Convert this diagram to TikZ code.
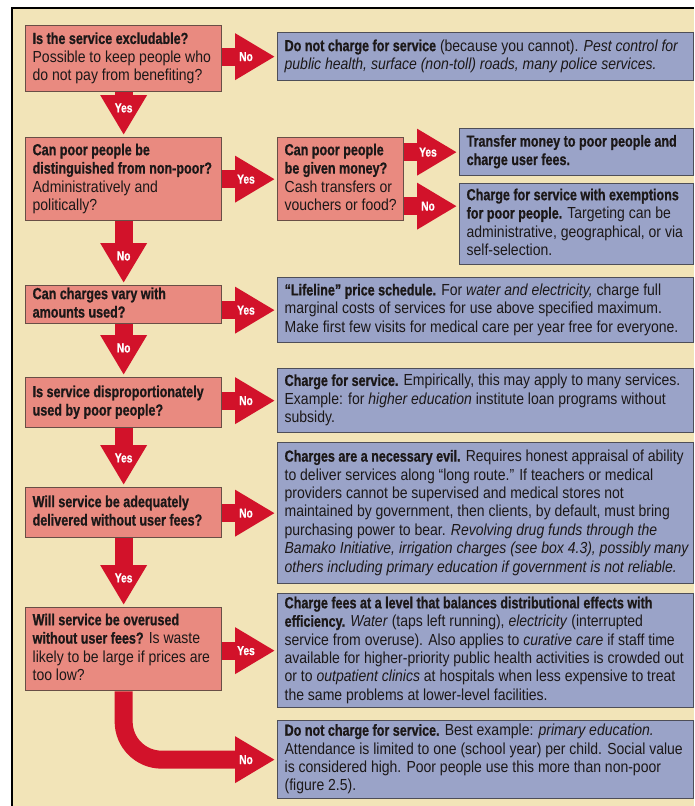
\documentclass[tikz,border=0pt]{standalone}
\usepackage{fontspec}
\setmainfont{Liberation Sans}[
  UprightFeatures={FakeStretch=0.875},
  ItalicFeatures={FakeStretch=0.875},
  BoldFeatures={FakeStretch=0.785,FakeBold=0.8},
  BoldItalicFeatures={FakeStretch=0.785}]
\usetikzlibrary{arrows.meta,calc}

\definecolor{pagebg}{RGB}{242,228,184}
\definecolor{qfill}{RGB}{233,138,128}
\definecolor{afill}{RGB}{154,163,200}
\definecolor{qline}{RGB}{105,78,70}
\definecolor{aline}{RGB}{78,78,88}
\definecolor{flowred}{RGB}{210,18,42}
\definecolor{ink}{RGB}{28,24,24}

\pgfdeclarelayer{back}
\pgfsetlayers{back,main}

% left-aligned block of forced lines, fixed width
\newcommand\boxtext[2]{\makebox[#1][l]{\begin{tabular}{@{}l@{}}#2\end{tabular}}}

\tikzset{
  box/.style={anchor=north west, inner xsep=7pt, inner ysep=0pt,
    line width=1.3pt, text=ink, font=\fontsize{16}{18.4}\selectfont},
  qbox/.style={box, draw=qline, fill=qfill},
  abox/.style={box, draw=aline, fill=afill},
  flow/.style={draw=flowred, line width=18pt,
    -{Triangle[width=44pt,length=40pt]}, shorten >=2pt},
  lbl/.style={text=white, inner sep=0pt,
    font=\fontsize{13}{13}\selectfont\bfseries}
}

\begin{document}
\begin{tikzpicture}[x=1pt,y=-1pt]
\useasboundingbox (0,0) rectangle (694,806);
\begin{pgfonlayer}{back}
  \fill[white] (0,0) rectangle (694,806);
  \fill[pagebg] (12,8) rectangle (694,806);
\end{pgfonlayer}
\draw[line width=1.6pt, black] (12,806) -- (12,8) -- (694,8);

% ---------- questions (left column) ----------
\node[qbox, minimum width=196pt, minimum height=66pt] (q1) at (25,25)
  {\boxtext{182pt}{\textbf{Is the service excludable?}\\
   Possible to keep people who\\ do not pay from benefiting?}};
\node[qbox, minimum width=196pt, minimum height=83pt] (q2) at (25,137)
  {\boxtext{182pt}{\textbf{Can poor people be}\\
   \textbf{distinguished from non-poor?}\\ Administratively and\\ politically?}};
\node[qbox, minimum width=196pt, minimum height=38pt] (q3) at (25,285)
  {\boxtext{182pt}{\textbf{Can charges vary with}\\ \textbf{amounts used?}}};
\node[qbox, minimum width=196pt, minimum height=50pt] (q4) at (25,377)
  {\boxtext{182pt}{\textbf{Is service disproportionately}\\
   \textbf{used by poor people?}}};
\node[qbox, minimum width=196pt, minimum height=50pt] (q5) at (25,487)
  {\boxtext{182pt}{\textbf{Will service be adequately}\\
   \textbf{delivered without user fees?}}};
\node[qbox, minimum width=196pt, minimum height=83pt] (q6) at (25,607)
  {\boxtext{182pt}{\textbf{Will service be overused}\\
   \textbf{without user fees?} Is waste\\
   likely to be large if prices are\\ too low?}};
\node[qbox, minimum width=126pt, minimum height=83pt] (gm) at (277,137)
  {\boxtext{112pt}{\textbf{Can poor people}\\ \textbf{be given money?}\\
   Cash transfers or\\ vouchers or food?}};

% ---------- outcomes (right column) ----------
\node[abox, minimum width=416pt, minimum height=48pt] (r1) at (277,32)
  {\boxtext{402pt}{\textbf{Do not charge for service} (because you cannot).
   \textit{Pest control for}\\
   \textit{public health, surface (non-toll) roads, many police services.}}};
\node[abox, minimum width=234pt, minimum height=47pt] (tr) at (459,128)
  {\boxtext{220pt}{\textbf{Transfer money to poor people and}\\
   \textbf{charge user fees.}}};
\node[abox, minimum width=234pt, minimum height=81pt] (ex) at (459,183)
  {\boxtext{220pt}{\textbf{Charge for service with exemptions}\\
   \textbf{for poor people.} Targeting can be\\
   administrative, geographical, or via\\ self-selection.}};
\node[abox, minimum width=416pt, minimum height=65pt] (r3) at (277,277)
  {\boxtext{402pt}{\textbf{“Lifeline” price schedule.} For
   \textit{water and electricity,} charge full\\
   marginal costs of services for use above specified maximum.\\
   Make first few visits for medical care per year free for everyone.}};
\node[abox, minimum width=416pt, minimum height=64pt] (r4) at (277,368)
  {\boxtext{402pt}{\textbf{Charge for service.} Empirically, this may apply to many services.\\
   Example: for \textit{higher education} institute loan programs without\\
   subsidy.}};
\node[abox, minimum width=416pt, minimum height=141pt] (r5) at (277,442)
  {\boxtext{402pt}{\textbf{Charges are a necessary evil.} Requires honest appraisal of ability\\
   to deliver services along “long route.” If teachers or medical\\
   providers cannot be supervised and medical stores not\\
   maintained by government, then clients, by default, must bring\\
   purchasing power to bear. \textit{Revolving drug funds through the}\\
   \textit{Bamako Initiative, irrigation charges (see box 4.3), possibly many}\\
   \textit{others including primary education if government is not reliable.}}};
\node[abox, minimum width=416pt, minimum height=114pt] (r6) at (277,593)
  {\boxtext{402pt}{\textbf{Charge fees at a level that balances distributional effects with}\\
   \textbf{efficiency.} \textit{Water} (taps left running), \textit{electricity} (interrupted\\
   service from overuse). Also applies to \textit{curative care} if staff time\\
   available for higher-priority public health activities is crowded out\\
   or to \textit{outpatient clinics} at hospitals when less expensive to treat\\
   the same problems at lower-level facilities.}};
\node[abox, minimum width=416pt, minimum height=78pt] (r7) at (277,720)
  {\boxtext{402pt}{\textbf{Do not charge for service.} Best example:
   \textit{primary education.}\\
   Attendance is limited to one (school year) per child. Social value\\
   is considered high. Poor people use this more than non-poor\\
   (figure 2.5).}};

% ---------- block arrows ----------
\coordinate (gmno) at ($(gm.east)+(0,27)$);
\coordinate (exin) at (gmno -| ex.west);
\begin{pgfonlayer}{back}
  \draw[flow] (q1.south) -- (q2.north);
  \draw[flow] (q2.south) -- (q3.north);
  \draw[flow] (q3.south) -- (q4.north);
  \draw[flow] (q4.south) -- (q5.north);
  \draw[flow] (q5.south) -- (q6.north);
  \draw[flow, rounded corners=38pt] (q6.south) |- (r7.west);
  \draw[flow] (q1.east |- r1.west) -- (r1.west);
  \draw[flow] (q2.east) -- (gm.west);
  \draw[flow] (q3.east |- r3.west) -- (r3.west);
  \draw[flow] (q4.east |- r4.west) -- (r4.west);
  \draw[flow] (q5.east |- r5.west) -- (r5.west);
  \draw[flow] (q6.east |- r6.west) -- (r6.west);
  \draw[flow] (gm.east |- tr.west) -- (tr.west);
  \draw[flow] (gmno) -- (exin);
\end{pgfonlayer}

% ---------- arrow labels ----------
\node[lbl] at ($(q2.north)+(0,-29)$) {Yes};
\node[lbl] at ($(q3.north)+(0,-29)$) {No};
\node[lbl] at ($(q4.north)+(0,-29)$) {No};
\node[lbl] at ($(q5.north)+(0,-29)$) {Yes};
\node[lbl] at ($(q6.north)+(0,-29)$) {Yes};
\node[lbl] at ($(r1.west)+(-31,0)$) {No};
\node[lbl] at ($(gm.west)+(-31,0)$) {Yes};
\node[lbl] at ($(r3.west)+(-31,0)$) {Yes};
\node[lbl] at ($(r4.west)+(-31,0)$) {No};
\node[lbl] at ($(r5.west)+(-31,0)$) {No};
\node[lbl] at ($(r6.west)+(-31,0)$) {Yes};
\node[lbl] at ($(r7.west)+(-31,0)$) {No};
\node[lbl] at ($(tr.west)+(-31,0)$) {Yes};
\node[lbl] at ($(exin)+(-31,0)$) {No};
\end{tikzpicture}
\end{document}
